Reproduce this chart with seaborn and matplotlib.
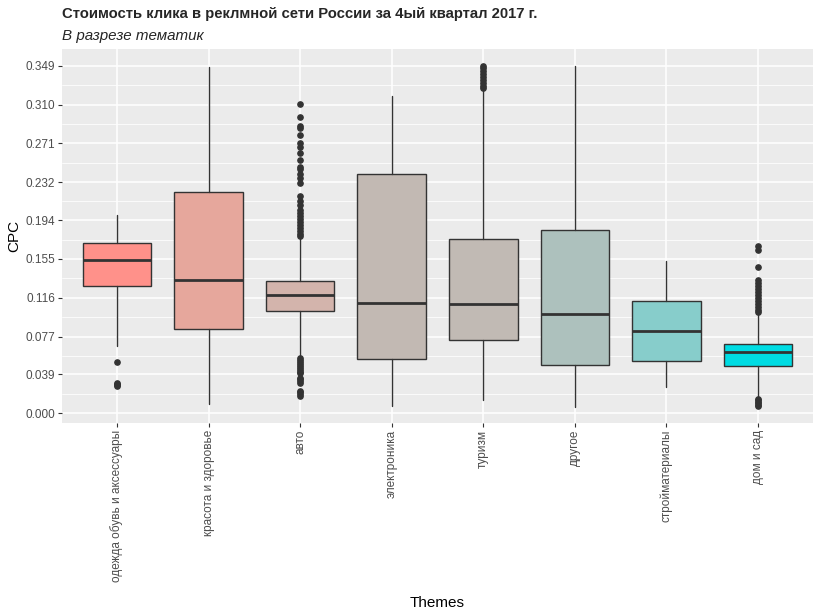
import matplotlib
matplotlib.use("Agg")
import matplotlib.pyplot as plt
import seaborn as sns
import numpy as np

themes = ['одежда обувь и аксессуары', 'красота и здоровье', 'авто', 'электроника',
          'туризм', 'другое', 'стройматериалы', 'дом и сад']

# box statistics
whis_lo = [0.0673, 0.0090, 0.0578, 0.0076, 0.0134, 0.0066, 0.0267, 0.0151]
q1 = [0.1275, 0.0843, 0.1024, 0.0542, 0.0733, 0.0482, 0.0522, 0.0472]
med = [0.1542, 0.1341, 0.1188, 0.1107, 0.1097, 0.0997, 0.0826, 0.0615]
q3 = [0.1707, 0.2219, 0.1325, 0.2400, 0.1747, 0.1837, 0.1124, 0.0693]
whis_hi = [0.1990, 0.3480, 0.1767, 0.3186, 0.3263, 0.3487, 0.1529, 0.1004]

outliers = [
    [0.0512, 0.0300, 0.0290, 0.0284, 0.0278],
    [],
    [0.3110, 0.2972, 0.2882, 0.2868, 0.2798, 0.2718, 0.2675, 0.2615, 0.2548, 0.2478,
     0.2458, 0.2408, 0.2364, 0.2314, 0.2180, 0.2133, 0.2090, 0.2040, 0.2010, 0.1980,
     0.1950, 0.1920, 0.1890, 0.1860, 0.1830, 0.1800, 0.1780,
     0.0560, 0.0540, 0.0520, 0.0500, 0.0480, 0.0460, 0.0440, 0.0420, 0.0410,
     0.0357, 0.0340, 0.0320, 0.0307, 0.0227, 0.0210, 0.0190, 0.0174],
    [],
    [0.3490, 0.3470, 0.3440, 0.3410, 0.3380, 0.3350, 0.3320, 0.3290, 0.3270],
    [],
    [],
    [0.1680, 0.1640, 0.1466, 0.1340, 0.1310, 0.1280, 0.1250, 0.1220, 0.1190, 0.1160,
     0.1130, 0.1100, 0.1070, 0.1040, 0.1015,
     0.0145, 0.0130, 0.0115, 0.0100, 0.0085, 0.0072],
]

fill_colors = ['#FF918A', '#E6A79C', '#D3B4AC', '#C2B9B3', '#C1BAB4', '#ADC1BD', '#87CDCB', '#00DCE3']

y_ticks = [0.000, 0.039, 0.077, 0.116, 0.155, 0.194, 0.232, 0.271, 0.310, 0.349]

sns.set_theme(style="darkgrid", rc={
    "axes.facecolor": "#EBEBEB",
    "grid.color": "white",
})
plt.rcParams['font.family'] = ['Liberation Sans', 'DejaVu Sans']

fig = plt.figure(figsize=(8.21, 6.15), dpi=100)
ax = fig.add_axes([62 / 821, 1 - 423 / 615, (813 - 62) / 821, (423 - 49) / 615])

stats = []
for i, name in enumerate(themes):
    stats.append(dict(label=name, whislo=whis_lo[i], q1=q1[i], med=med[i],
                      q3=q3[i], whishi=whis_hi[i], fliers=outliers[i]))

positions = np.arange(1, len(themes) + 1)
bp = ax.bxp(stats, positions=positions, widths=0.75, patch_artist=True, showcaps=False,
            boxprops=dict(edgecolor='#333333', linewidth=1.0),
            whiskerprops=dict(color='#333333', linewidth=1.0),
            medianprops=dict(color='#333333', linewidth=2.0),
            flierprops=dict(marker='o', markerfacecolor='#333333', markeredgecolor='#333333',
                            markersize=3.8, linestyle='none'))
for patch, c in zip(bp['boxes'], fill_colors):
    patch.set_facecolor(c)
for item in bp['boxes'] + bp['whiskers'] + bp['medians'] + bp['fliers']:
    item.set_zorder(3)

ax.set_xlim(0.4, len(themes) + 0.6)
ax.set_ylim(-0.0097, 0.3658)
ax.set_yticks(y_ticks)
ax.set_yticklabels([f"{v:.3f}" for v in y_ticks])
minor = [(a + b) / 2 for a, b in zip(y_ticks[:-1], y_ticks[1:])]
ax.set_yticks(minor, minor=True)
ax.set_xticks(positions)
ax.set_xticklabels(themes, rotation=90)

ax.grid(which='major', color='white', linewidth=1.1)
ax.grid(which='minor', axis='y', color='white', linewidth=0.55)
ax.set_axisbelow(True)
for s in ax.spines.values():
    s.set_visible(False)

ax.tick_params(axis='both', which='major', length=3, width=0.8, color='#333333',
               labelsize=8.5, labelcolor='#4D4D4D', pad=2, left=True, bottom=True)
ax.tick_params(axis='y', which='minor', length=0, left=False)

ax.set_xlabel('Themes', fontsize=11, color='black', labelpad=10)
ax.set_ylabel('CPC', fontsize=11, color='black', labelpad=3)

fig.text(62 / 821, 1 - 14 / 615, 'Стоимость клика в реклмной сети России за 4ый квартал 2017 г.',
         fontsize=10.7, fontweight='bold', ha='left', va='center')
fig.text(62 / 821, 1 - 36 / 615, 'В разрезе тематик', fontsize=10.9, fontstyle='italic',
         ha='left', va='center')

fig.savefig('out.png', dpi=100)
